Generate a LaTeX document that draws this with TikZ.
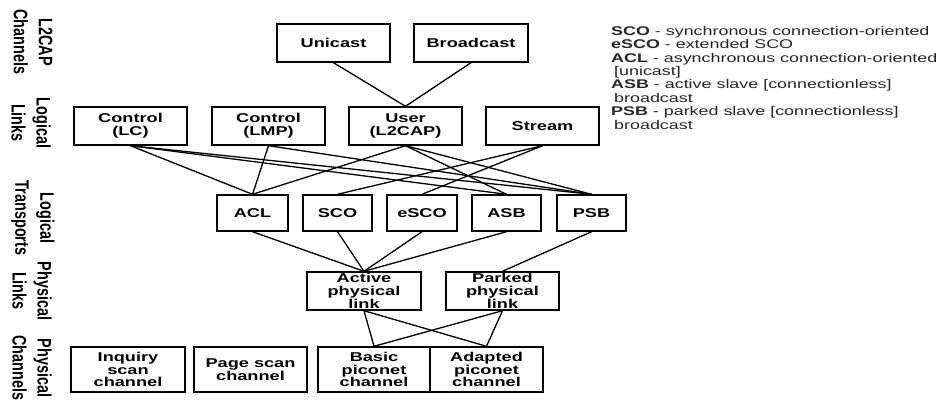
\documentclass[tikz,border=0pt]{standalone}
\usepackage{fontspec}
\setmainfont{Liberation Sans}[FakeStretch=1.42]
\newfontfamily\sidefont{Liberation Sans}[FakeStretch=0.74]
\begin{document}
\begin{tikzpicture}[x=1pt,y=-1pt,
  box/.style={draw, line width=1.4pt, inner sep=0pt, align=center,
    font=\fontsize{12.8}{12.8}\selectfont\bfseries},
  side/.style={rotate=-90, align=center, inner sep=0pt,
    font=\sidefont\fontsize{19.5}{25}\selectfont\bfseries},
  link/.style={line width=1.3pt}]
\useasboundingbox (0,0) rectangle (942,399);
% side labels
\node[side] (s1) at (33,42) {L2CAP\\Channels};
\node[side] (s2) at (31,123) {Logical\\Links};
\node[side] (s3) at (33,218) {Logical\\Transports};
\node[side] (s4) at (32,291) {Physical\\Links};
\node[side] (s5) at (32,368) {Physical\\Channels};
% L2CAP channels
\node[box, minimum width=113pt, minimum height=38pt] (uni) at (333.5,43) {Unicast};
\node[box, minimum width=114pt, minimum height=38pt] (bro) at (471,43) {Broadcast};
% logical links
\node[box, minimum width=113pt, minimum height=38pt] (lc) at (130.5,126) {Control\\(LC)};
\node[box, minimum width=113pt, minimum height=38pt] (lmp) at (268.5,126) {Control\\(LMP)};
\node[box, minimum width=113pt, minimum height=38pt] (user) at (405.5,126) {User\\(L2CAP)};
\node[box, minimum width=113pt, minimum height=38pt] (stream) at (542.5,126) {Stream};
% logical transports
\node[box, minimum width=71pt, minimum height=36pt] (acl) at (252.5,213) {ACL};
\node[box, minimum width=69pt, minimum height=36pt] (sco) at (337.5,213) {SCO};
\node[box, minimum width=70pt, minimum height=36pt] (esco) at (422,213) {eSCO};
\node[box, minimum width=69pt, minimum height=36pt] (asb) at (506.5,213) {ASB};
\node[box, minimum width=69pt, minimum height=36pt] (psb) at (591.5,213) {PSB};
% physical links
\node[box, minimum width=114pt, minimum height=38pt] (active) at (364,291) {Active\\physical\\link};
\node[box, minimum width=113pt, minimum height=38pt] (parked) at (502.5,291) {Parked\\physical\\link};
% physical channels
\node[box, minimum width=114pt, minimum height=45pt] (inq) at (128,369.5) {Inquiry\\scan\\channel};
\node[box, minimum width=113pt, minimum height=45pt] (page) at (250.5,369.5) {Page scan\\channel};
\node[box, minimum width=112pt, minimum height=45pt] (basic) at (374,369.5) {Basic\\piconet\\channel};
\node[box, minimum width=113pt, minimum height=45pt] (adapted) at (486.5,369.5) {Adapted\\piconet\\channel};
% connectors
\draw[link] (uni.south) -- (user.north);
\draw[link] (bro.south) -- (user.north);
\draw[link] (lc.south) -- (acl.north);
\draw[link] (lc.south) -- (asb.north);
\draw[link] (lc.south) -- (psb.north);
\draw[link] (lmp.south) -- (acl.north);
\draw[link] (lmp.south) -- (psb.north);
\draw[link] (user.south) -- (acl.north);
\draw[link] (user.south) -- (asb.north);
\draw[link] (user.south) -- (psb.north);
\draw[link] (stream.south) -- (sco.north);
\draw[link] (stream.south) -- (esco.north);
\draw[link] (acl.south) -- (active.north);
\draw[link] (sco.south) -- (active.north);
\draw[link] (esco.south) -- (active.north);
\draw[link] (asb.south) -- (active.north);
\draw[link] (psb.south) -- (parked.north);
\draw[link] (active.south) -- (basic.north);
\draw[link] (active.south) -- (adapted.north);
\draw[link] (parked.south) -- (basic.north);
\draw[link] (parked.south) -- (adapted.north);
% legend
\node[anchor=north west, align=left, inner sep=0pt, text=black!85,
  font=\fontsize{12.6}{13.4}\selectfont] (legend) at (611,26)
  {\textbf{SCO} - synchronous connection-oriented\\
   \textbf{eSCO} - extended SCO\\
   \textbf{ACL} - asynchronous connection-oriented\\
   \hspace{3pt}[unicast]\\
   \textbf{ASB} - active slave [connectionless]\\
   \hspace{3pt}broadcast\\
   \textbf{PSB} - parked slave [connectionless]\\
   \hspace{3pt}broadcast};
\end{tikzpicture}
\end{document}
